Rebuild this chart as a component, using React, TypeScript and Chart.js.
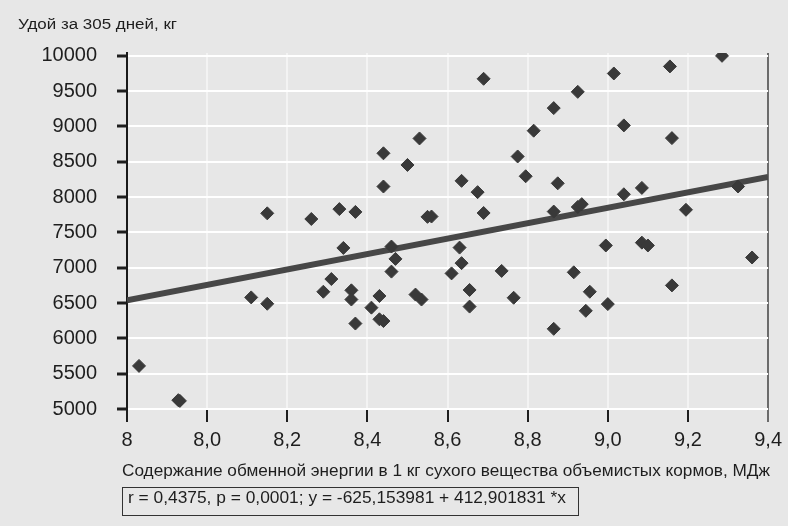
import React, { useEffect, useLayoutEffect, useRef } from 'react';
import { Chart, registerables } from 'chart.js';

Chart.register(...registerables);

const FONT = "'Liberation Sans', Arial, sans-serif";

const yTitle = 'Удой за 305 дней, кг';
const xTitle = 'Содержание обменной энергии в 1 кг сухого вещества объемистых кормов, МДж';
const statsText = 'r = 0,4375, p = 0,0001; y = -625,153981 + 412,901831 *x';

const xTickValues = [7.8, 8.0, 8.2, 8.4, 8.6, 8.8, 9.0, 9.2, 9.4];
const xTickLabels = ['8', '8,0', '8,2', '8,4', '8,6', '8,8', '9,0', '9,2', '9,4'];
const yTickValues = [5000, 5500, 6000, 6500, 7000, 7500, 8000, 8500, 9000, 9500, 10000];

const energyX = [
  7.83, 7.928, 7.932, 8.11, 8.15, 8.15, 8.26, 8.29, 8.31, 8.33,
  8.34, 8.36, 8.36, 8.37, 8.37, 8.41, 8.43, 8.43, 8.44, 8.44,
  8.44, 8.46, 8.47, 8.46, 8.5, 8.52, 8.535, 8.53, 8.55, 8.56,
  8.61, 8.63, 8.635, 8.635, 8.655, 8.655, 8.675, 8.69, 8.69, 8.735,
  8.765, 8.775, 8.795, 8.815, 8.865, 8.865, 8.865, 8.875, 8.915, 8.925,
  8.925, 8.935, 8.945, 8.955, 8.995, 9.0, 9.015, 9.04, 9.04, 9.085,
  9.085, 9.1, 9.155, 9.16, 9.16, 9.195, 9.285, 9.325, 9.36,
];
const milkY = [
  5610, 5125, 5115, 6580, 6490, 7770, 7690, 6660, 6840, 7830,
  7280, 6680, 6550, 6210, 7790, 6435, 6600, 6270, 6245, 8620,
  8150, 7300, 7125, 6945, 8455, 6620, 6550, 8830, 7720, 7725,
  6920, 7285, 7065, 8230, 6685, 6450, 8070, 9675, 7775, 6955,
  6575, 8575, 8295, 8940, 9260, 7795, 6135, 8195, 6935, 9490,
  7860, 7900, 6390, 6660, 7315, 6485, 9750, 9015, 8040, 8130,
  7355, 7315, 9850, 8835, 6750, 7820, 10000, 8150, 7145,
];

const trendX = [7.8, 9.4];
const trendY = [6540, 8285];

function FitText(props: { text: string; left: number; top: number; fontSize: number; width: number }) {
  const ref = useRef<HTMLSpanElement>(null);
  useLayoutEffect(() => {
    const el = ref.current;
    if (!el) return;
    el.style.transform = 'none';
    const w = el.getBoundingClientRect().width;
    if (w > 0) el.style.transform = `scaleX(${props.width / w})`;
  }, [props.text, props.width]);
  return (
    <span
      ref={ref}
      style={{
        position: 'absolute',
        left: props.left,
        top: props.top,
        fontSize: props.fontSize,
        lineHeight: 1,
        whiteSpace: 'nowrap',
        transformOrigin: '0 0',
        fontFamily: FONT,
        color: '#1e1e1e',
      }}
    >
      {props.text}
    </span>
  );
}

export default function App() {
  const canvasRef = useRef<HTMLCanvasElement>(null);

  useEffect(() => {
    const canvas = canvasRef.current;
    if (!canvas) return;
    const lastX = xTickValues.length - 1;
    const chart = new Chart(canvas, {
      type: 'scatter',
      data: {
        datasets: [
          {
            label: 'points',
            data: energyX.map((x, i) => ({ x, y: milkY[i] })),
            pointStyle: 'rectRot',
            pointRadius: 6.5,
            pointHoverRadius: 6.5,
            backgroundColor: '#393939',
            borderColor: '#393939',
            borderWidth: 1,
            order: 0,
          },
          {
            type: 'line',
            label: 'trend',
            data: trendX.map((x, i) => ({ x, y: trendY[i] })),
            showLine: true,
            borderColor: '#474747',
            borderWidth: 6,
            pointRadius: 0,
            fill: false,
            order: 1,
          } as any,
        ],
      },
      options: {
        responsive: false,
        maintainAspectRatio: false,
        animation: false,
        devicePixelRatio: 1,
        layout: { padding: { top: 53, right: 15, left: 0, bottom: 0 } },
        plugins: { legend: { display: false }, tooltip: { enabled: false } },
        scales: {
          x: {
            type: 'linear',
            min: 7.8,
            max: 9.4,
            afterBuildTicks: (scale: any) => {
              scale.ticks = xTickValues.map((v) => ({ value: v }));
            },
            afterFit: (scale: any) => {
              scale.height = 117;
            },
            ticks: {
              callback: (_v: any, i: number) => xTickLabels[i],
              font: { family: FONT, size: 20 },
              color: '#1e1e1e',
              padding: 6,
              maxRotation: 0,
              autoSkip: false,
            },
            grid: {
              color: (ctx: any) =>
                ctx.index === lastX ? '#6b6b6b' : ctx.index === 0 ? '#1a1a1a' : 'rgba(255,255,255,0.5)',
              lineWidth: 2,
              tickColor: (ctx: any) => (ctx.index === lastX ? '#6b6b6b' : '#1e1e1e'),
              tickLength: 13,
              tickWidth: 2,
            },
            border: { display: false },
          },
          y: {
            type: 'linear',
            min: 5000,
            max: 10040,
            afterBuildTicks: (scale: any) => {
              scale.ticks = yTickValues.map((v) => ({ value: v }));
            },
            afterFit: (scale: any) => {
              scale.width = 127;
            },
            ticks: {
              font: { family: FONT, size: 20 },
              color: '#1e1e1e',
              padding: 20,
              autoSkip: false,
              callback: (v: any) => String(v),
            },
            grid: {
              color: '#ffffff',
              lineWidth: 2,
              tickColor: '#1e1e1e',
              tickLength: 10,
              tickWidth: 3,
            },
            border: { display: true, color: '#1a1a1a', width: 2 },
          },
        },
      },
    });
    return () => chart.destroy();
  }, []);

  return (
    <div
      style={{
        position: 'fixed',
        left: 0,
        top: 0,
        width: 788,
        height: 526,
        background: '#e7e7e7',
        overflow: 'hidden',
      }}
    >
      <canvas ref={canvasRef} width={788} height={526} style={{ position: 'absolute', left: 0, top: 0, display: 'block' }} />
      <FitText text={yTitle} left={18} top={16} fontSize={15.5} width={159} />
      <FitText text={xTitle} left={122} top={462} fontSize={16.5} width={648} />
      <div
        style={{
          position: 'absolute',
          left: 122,
          top: 487,
          width: 457,
          height: 29,
          border: '1.5px solid #333',
          boxSizing: 'border-box',
        }}
      />
      <FitText text={statsText} left={128} top={490} fontSize={16} width={438} />
    </div>
  );
}
